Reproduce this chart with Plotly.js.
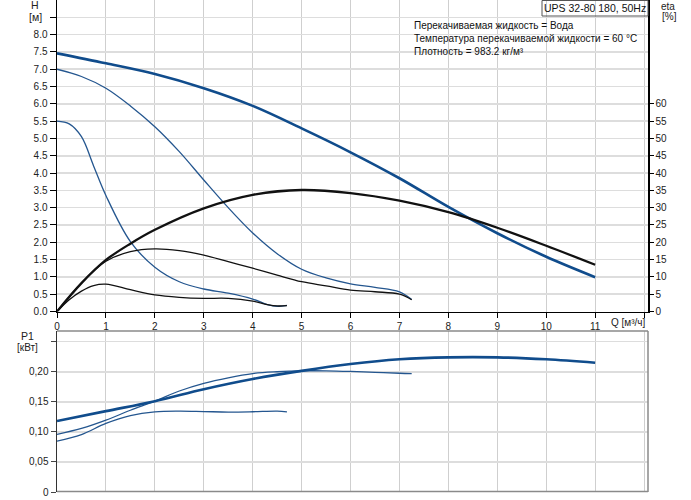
<!DOCTYPE html>
<html>
<head>
<meta charset="utf-8">
<script src="https://cdn.plot.ly/plotly-3.0.1.min.js"></script>
<style>html,body{margin:0;padding:0;background:#fff;}#chart{width:691px;height:500px;}</style>
</head>
<body>
<div id="chart"></div>
<script>
// ---- data ----
var qSpeed3 = [0, 1, 2, 3, 4, 5, 6, 7, 8, 9, 10, 11];
var hSpeed3 = [7.46, 7.17, 6.86, 6.45, 5.94, 5.29, 4.60, 3.85, 3.02, 2.26, 1.58, 0.99];
var qEta3 = [0, 0.5, 1, 1.5, 2, 3, 4, 5, 6, 7, 8, 9, 10, 11];
var etaSpeed3 = [0, 8.2, 14.9, 19.6, 23.6, 29.8, 33.7, 35.1, 34.2, 32.0, 28.7, 24.2, 19.0, 13.5];

var qSpeed2 = [0, 0.5, 1, 1.5, 2, 2.5, 3, 3.5, 4, 4.5, 5, 5.5, 6, 6.5, 7, 7.25];
var hSpeed2 = [7.0, 6.79, 6.45, 5.94, 5.34, 4.62, 3.80, 3.0, 2.27, 1.67, 1.22, 0.97, 0.80, 0.70, 0.57, 0.35];
var etaSpeed2 = [0, 8.2, 14.5, 17.3, 18.1, 17.6, 16.3, 14.4, 12.5, 10.5, 8.6, 7.4, 6.2, 5.7, 5.0, 3.4];

var qSpeed1 = [0, 0.25, 0.5, 0.75, 1, 1.5, 2, 2.5, 3, 3.5, 4, 4.3, 4.5, 4.7];
var hSpeed1 = [5.5, 5.42, 5.05, 4.2, 3.35, 2.02, 1.28, 0.86, 0.65, 0.53, 0.36, 0.2, 0.15, 0.18];
var etaSpeed1 = [0, 3.4, 5.9, 7.5, 7.9, 6.3, 4.8, 4.1, 3.8, 3.8, 3.0, 2.0, 1.6, 1.7];

var qP3 = [0, 1, 2, 3, 4, 5, 6, 7, 8, 9, 10, 11];
var pSpeed3 = [0.118, 0.1345, 0.151, 0.171, 0.188, 0.2015, 0.2128, 0.2207, 0.224, 0.224, 0.2207, 0.215];
var qP2 = [0, 0.5, 1, 1.5, 2, 2.5, 3, 3.5, 4, 4.5, 5, 5.5, 6, 6.5, 7, 7.25];
var pSpeed2 = [0.096, 0.1057, 0.1195, 0.136, 0.151, 0.168, 0.1807, 0.19, 0.197, 0.2, 0.2015, 0.2015, 0.2005, 0.199, 0.1975, 0.197];
var qP1 = [0, 0.5, 1, 1.5, 2, 2.5, 3, 3.5, 4, 4.5, 4.7];
var pSpeed1 = [0.0845, 0.0955, 0.114, 0.127, 0.1333, 0.1345, 0.1338, 0.133, 0.1335, 0.1345, 0.1333];

var qTicks = [0, 1, 2, 3, 4, 5, 6, 7, 8, 9, 10, 11, 12];
var qTickText = ['0', '1', '2', '3', '4', '5', '6', '7', '8', '9', '10', '11', ''];
var hTicks = [0, 0.5, 1, 1.5, 2, 2.5, 3, 3.5, 4, 4.5, 5, 5.5, 6, 6.5, 7, 7.5, 8, 8.5];
var hTickText = ['0.0', '0.5', '1.0', '1.5', '2.0', '2.5', '3.0', '3.5', '4.0', '4.5', '5.0', '5.5', '6.0', '6.5', '7.0', '7.5', '8.0', ''];
var etaTicks = [0, 5, 10, 15, 20, 25, 30, 35, 40, 45, 50, 55, 60];
var pTicks = [0, 0.05, 0.10, 0.15, 0.20, 0.25];
var pTickText = ['0', '0,05', '0,10', '0,15', '0,20', ''];

var titleText = 'UPS 32-80 180, 50Hz';
var infoLines = ['Перекачиваемая жидкость = Вода', 'Температура перекачиваемой жидкости = 60 °C', 'Плотность = 983.2 кг/м³'];

// ---- styling ----
var W = 691, H = 500, ML = 57, MR = 43, MT = 0, MB = 8;
var PW = W - ML - MR, PH = H - MT - MB;
function px(x) { return (x - ML) / PW; }
function py(y) { return (H - MB - y) / PH; }
var FONT = 'Arial, "Liberation Sans", sans-serif';
var BLUE = '#104c8c', BLUE2 = '#24568f', BLACK = '#111111';

function tr(x, y, xa, ya, color, width) {
  return { x: x, y: y, xaxis: xa, yaxis: ya, type: 'scatter', mode: 'lines',
    line: { color: color, width: width, shape: 'spline', smoothing: 1 }, hoverinfo: 'skip', showlegend: false };
}

var traces = [
  tr(qSpeed1, hSpeed1, 'x', 'y', BLUE2, 1.3),
  tr(qSpeed2, hSpeed2, 'x', 'y', BLUE2, 1.3),
  tr(qSpeed3, hSpeed3, 'x', 'y', BLUE, 2.6),
  tr(qSpeed1, etaSpeed1, 'x', 'y2', BLACK, 1.3),
  tr(qSpeed2, etaSpeed2, 'x', 'y2', BLACK, 1.3),
  tr(qEta3, etaSpeed3, 'x', 'y2', BLACK, 2.3),
  tr(qP1, pSpeed1, 'x2', 'y3', BLUE2, 1.3),
  tr(qP2, pSpeed2, 'x2', 'y3', BLUE2, 1.3),
  tr(qP3, pSpeed3, 'x2', 'y3', BLUE, 2.6)
];

var tickFont = { family: FONT, size: 10, color: '#222' };
var topBottom = py(311.5), botTop = py(331);

var layout = {
  width: W, height: H,
  margin: { l: ML, r: MR, t: MT, b: MB, pad: 0 },
  paper_bgcolor: '#fff', plot_bgcolor: '#fff',
  showlegend: false,
  font: { family: FONT, size: 10, color: '#222' },
  xaxis: { domain: [0, 1], anchor: 'y', range: [0, 12.08], tickvals: qTicks, ticktext: qTickText,
    ticks: 'outside', ticklen: 5, tickcolor: '#000', showline: true, linecolor: '#000', linewidth: 1.5,
    showgrid: true, gridcolor: '#cfcfcf', gridwidth: 1, zeroline: false, tickfont: tickFont, fixedrange: true },
  yaxis: { domain: [topBottom, 1], anchor: 'x', range: [0, 9], tickvals: hTicks, ticktext: hTickText,
    ticks: 'outside', ticklen: 6, tickcolor: '#000', showline: true, linecolor: '#000', linewidth: 1.5,
    showgrid: true, gridcolor: '#dddddd', gridwidth: 1.5, zeroline: false, tickfont: tickFont },
  yaxis2: { overlaying: 'y', side: 'right', anchor: 'x', range: [0, 90], tickvals: etaTicks,
    ticks: 'outside', ticklen: 4, tickcolor: '#000', showline: true, linecolor: '#000', linewidth: 1.5,
    showgrid: false, zeroline: false, tickfont: tickFont },
  xaxis2: { domain: [0, 1], anchor: 'y3', range: [0, 12.08], tickvals: qTicks, showticklabels: false,
    ticks: '', showline: false, showgrid: true, gridcolor: '#cfcfcf', gridwidth: 1, zeroline: false },
  yaxis3: { domain: [0, botTop], anchor: 'x2', range: [0, 0.2678], tickvals: pTicks, ticktext: pTickText,
    ticks: 'outside', ticklen: 5, tickcolor: '#444', showline: true, linecolor: '#333', linewidth: 1.5,
    showgrid: true, gridcolor: '#dddddd', gridwidth: 1.5, zeroline: false, tickfont: tickFont },
  shapes: [
    { type: 'line', xref: 'paper', yref: 'paper', x0: 0, x1: 1, y0: botTop, y1: botTop, line: { color: '#8a8a8a', width: 1.5 } },
    { type: 'line', xref: 'paper', yref: 'paper', x0: 1, x1: 1, y0: 0, y1: botTop, line: { color: '#8a8a8a', width: 1.5 } },
    { type: 'line', xref: 'paper', yref: 'paper', x0: 0, x1: 1, y0: py(491.5), y1: py(491.5), line: { color: '#8a8a8a', width: 1.5 } },
    { type: 'rect', xref: 'paper', yref: 'paper', x0: px(542), x1: px(648), y0: py(16), y1: py(0.5),
      line: { color: '#555', width: 1 }, fillcolor: 'rgba(255,255,255,0)' }
  ],
  annotations: [
    { text: titleText, xref: 'paper', yref: 'paper', x: px(595), y: py(8), xanchor: 'center', yanchor: 'middle', showarrow: false, font: { family: FONT, size: 10.5, color: '#111' } },
    { text: infoLines[0], xref: 'paper', yref: 'paper', x: px(412), y: py(25.7), xanchor: 'left', yanchor: 'middle', showarrow: false, font: { family: FONT, size: 10, color: '#111' } },
    { text: infoLines[1], xref: 'paper', yref: 'paper', x: px(412), y: py(38.7), xanchor: 'left', yanchor: 'middle', showarrow: false, font: { family: FONT, size: 10, color: '#111' } },
    { text: infoLines[2], xref: 'paper', yref: 'paper', x: px(412), y: py(51.7), xanchor: 'left', yanchor: 'middle', showarrow: false, font: { family: FONT, size: 10, color: '#111' } },
    { text: 'H', xref: 'paper', yref: 'paper', x: px(35), y: py(5), xanchor: 'center', yanchor: 'middle', showarrow: false, font: { family: FONT, size: 10.5, color: '#222' } },
    { text: '[м]', xref: 'paper', yref: 'paper', x: px(35), y: py(17.5), xanchor: 'center', yanchor: 'middle', showarrow: false, font: { family: FONT, size: 10.5, color: '#222' } },
    { text: 'eta', xref: 'paper', yref: 'paper', x: px(668), y: py(6), xanchor: 'center', yanchor: 'middle', showarrow: false, font: { family: FONT, size: 10, color: '#222' } },
    { text: '[%]', xref: 'paper', yref: 'paper', x: px(669), y: py(16.5), xanchor: 'center', yanchor: 'middle', showarrow: false, font: { family: FONT, size: 10, color: '#222' } },
    { text: 'Q [м³/ч]', xref: 'paper', yref: 'paper', x: px(609), y: py(322.7), xanchor: 'left', yanchor: 'middle', showarrow: false, font: { family: FONT, size: 10, color: '#222' } },
    { text: 'P1', xref: 'paper', yref: 'paper', x: px(27), y: py(335.7), xanchor: 'center', yanchor: 'middle', showarrow: false, font: { family: FONT, size: 10.5, color: '#222' } },
    { text: '[кВт]', xref: 'paper', yref: 'paper', x: px(27), y: py(347), xanchor: 'center', yanchor: 'middle', showarrow: false, font: { family: FONT, size: 10, color: '#222' } }
  ]
};

Plotly.newPlot('chart', traces, layout, { staticPlot: true, displayModeBar: false });
</script>
</body>
</html>
